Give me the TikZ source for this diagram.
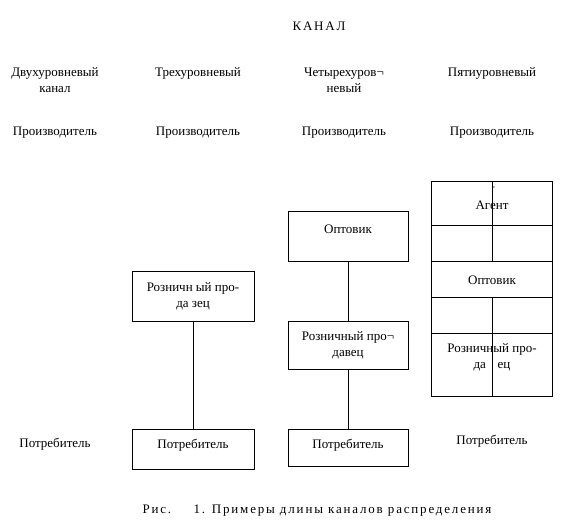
\documentclass[tikz,border=0pt]{standalone}
\usepackage{fontspec}
\setmainfont{Liberation Serif}
\newfontfamily\spaced[LetterSpace=14]{Liberation Serif}
\begin{document}
\begin{tikzpicture}[x=1pt,y=-1pt,
  txt/.style={inner sep=0pt,align=center,yshift=-1.5pt,font=\fontsize{13}{16}\selectfont},
  box/.style={draw,line width=1pt,inner sep=0pt,minimum width=#1},
  ln/.style={line width=1pt}]
\useasboundingbox (0,0) rectangle (576,527);
% title
\node[txt,font=\spaced\fontsize{13}{15}\selectfont] (title) at (319,25) {КАНАЛ};
% headers
\node[txt,anchor=north] (h1) at (55,66) {Двухуровневый\\канал};
\node[txt,anchor=north] (h2) at (198,66) {Трехуровневый};
\node[txt,anchor=north] (h3) at (344,66) {Четырехуров¬\\невый};
\node[txt,anchor=north] (h4) at (492,66) {Пятиуровневый};
% producers
\node[txt] (p1) at (55,131) {Производитель};
\node[txt] (p2) at (198,131) {Производитель};
\node[txt] (p3) at (344,131) {Производитель};
\node[txt] (p4) at (492,131) {Производитель};
% column 1
\node[txt] (k1) at (55,443) {Потребитель};
% column 2
\node[box=122pt,minimum height=50pt] (r2) at (193,296) {};
\node[txt] (r2t) at (193,295) {Розничн ый про-\\да зец};
\node[box=122pt,minimum height=40pt] (k2) at (193,449) {};
\node[txt] (k2t) at (193,444) {Потребитель};
\draw[ln] (r2.south) -- (k2.north);
% column 3
\node[box=120pt,minimum height=50pt] (w3) at (348,236) {};
\node[txt] (w3t) at (348,228) {Оптовик};
\node[box=120pt,minimum height=48pt] (r3) at (348,345) {};
\node[txt] (r3t) at (348,344) {Розничный про¬\\давец};
\node[box=120pt,minimum height=37pt] (k3) at (348,447.5) {};
\node[txt] (k3t) at (348,444) {Потребитель};
\draw[ln] (w3.south) -- (r3.north);
\draw[ln] (r3.south) -- (k3.north);
% column 4
\node[box=121pt,minimum height=215pt] (c4) at (491.5,288.5) {};
\node[txt] (a4) at (492,204) {Агент};
\node[txt,font=\fontsize{4}{4}\selectfont] (m4) at (494,186) {z};
\node[txt] (w4) at (492,279) {Оптовик};
\node[txt] (r4) at (492,356) {Розничный про-\\да\hspace{0.9em}ец};
\coordinate (y1) at (431,225); \coordinate (y1e) at (552,225);
\coordinate (y2) at (431,261); \coordinate (y2e) at (552,261);
\coordinate (y3) at (431,297); \coordinate (y3e) at (552,297);
\coordinate (y4) at (431,333); \coordinate (y4e) at (552,333);
\draw[ln] (y1) -- (y1e);
\draw[ln] (y2) -- (y2e);
\draw[ln] (y3) -- (y3e);
\draw[ln] (y4) -- (y4e);
\coordinate (v1) at (492.5,181); \coordinate (v2) at (492.5,261);
\coordinate (v3) at (492.5,297); \coordinate (v4) at (492.5,396);
\draw[ln] (v1) -- (v2);
\draw[ln] (v3) -- (v4);
\node[txt] (k4) at (492,440) {Потребитель};
% caption
\node[txt,font=\spaced\fontsize{13}{15}\selectfont] (cap) at (317,509) {Рис.\hspace{1.2em} 1. Примеры длины каналов распределения};
\end{tikzpicture}
\end{document}
